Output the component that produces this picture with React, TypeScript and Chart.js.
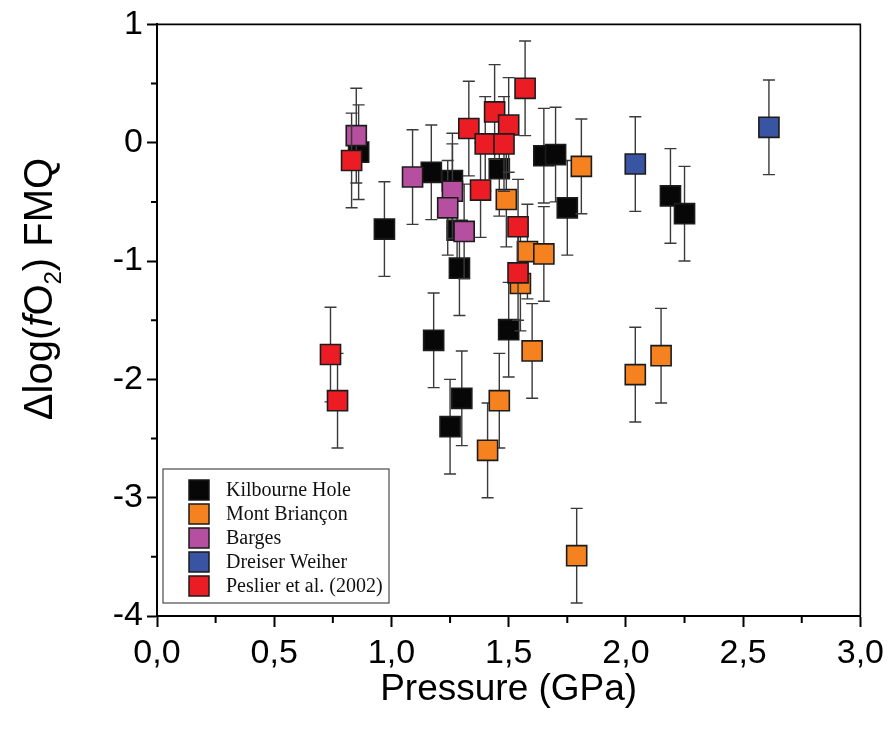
import React, { useEffect, useRef } from 'react';
import { Chart, registerables } from 'chart.js';

Chart.register(...registerables);

const seriesNames = ['Kilbourne Hole', 'Mont Briançon', 'Barges', 'Dreiser Weiher', 'Peslier et al. (2002)'];
const seriesColors = ['#070707', '#f5821f', '#b64f9f', '#3a54a4', '#ec1c24'];

const kilbourneP = [0.86, 0.97, 1.17, 1.26, 1.28, 1.29, 1.18, 1.30, 1.25, 1.46, 1.50, 1.65, 1.70, 1.75, 2.19, 2.25];
const kilbourneFO2 = [-0.08, -0.73, -0.25, -0.32, -0.74, -1.06, -1.67, -2.16, -2.40, -0.22, -1.58, -0.11, -0.10, -0.55, -0.45, -0.60];
const kilbourneErr = [0.4, 0.4, 0.4, 0.4, 0.4, 0.4, 0.4, 0.4, 0.4, 0.4, 0.4, 0.4, 0.4, 0.4, 0.4, 0.4];

const montP = [1.49, 1.58, 1.65, 1.81, 1.55, 1.60, 1.46, 1.41, 1.79, 2.04, 2.15];
const montFO2 = [-0.48, -0.92, -0.94, -0.20, -1.19, -1.76, -2.18, -2.60, -3.49, -1.96, -1.80];
const montErr = [0.4, 0.4, 0.4, 0.4, 0.4, 0.4, 0.4, 0.4, 0.4, 0.4, 0.4];

const bargesP = [0.85, 1.09, 1.26, 1.24, 1.31];
const bargesFO2 = [0.06, -0.29, -0.41, -0.55, -0.75];
const bargesErr = [0.4, 0.4, 0.4, 0.4, 0.4];

const dreiserP = [2.04, 2.61];
const dreiserFO2 = [-0.18, 0.13];
const dreiserErr = [0.4, 0.4];

const peslierP = [0.83, 1.33, 1.44, 1.50, 1.40, 1.48, 1.57, 1.38, 1.54, 1.54, 0.74, 0.77];
const peslierFO2 = [-0.15, 0.12, 0.26, 0.15, -0.01, -0.01, 0.46, -0.40, -0.71, -1.10, -1.79, -2.18];
const peslierErr = [0.4, 0.4, 0.4, 0.4, 0.4, 0.4, 0.4, 0.4, 0.4, 0.4, 0.4, 0.4];

const xTickMajor = [0, 0.5, 1, 1.5, 2, 2.5, 3];
const yTickMajor = [1, 0, -1, -2, -3, -4];

const seriesP = [kilbourneP, montP, bargesP, dreiserP, peslierP];
const seriesFO2 = [kilbourneFO2, montFO2, bargesFO2, dreiserFO2, peslierFO2];
const seriesErr = [kilbourneErr, montErr, bargesErr, dreiserErr, peslierErr];

const SANS = "'Liberation Sans', Arial, sans-serif";
const SERIF = "'Liberation Serif', 'Times New Roman', serif";

const isMajorX = (v: number) => xTickMajor.some((m) => Math.abs(m - v) < 1e-6);
const isMajorY = (v: number) => yTickMajor.some((m) => Math.abs(m - v) < 1e-6);

const errorBarPlugin = {
  id: 'errorBars',
  beforeDatasetDraw(chart: any, args: any) {
    const i = args.index;
    const errs = seriesErr[i];
    const meta = chart.getDatasetMeta(i);
    const ys = chart.scales.y;
    const ctx = chart.ctx;
    ctx.save();
    ctx.strokeStyle = '#3a3a3a';
    ctx.lineWidth = 1.4;
    meta.data.forEach((el: any, j: number) => {
      const v = chart.data.datasets[i].data[j].y;
      const x = el.x;
      const yTop = ys.getPixelForValue(v + errs[j]);
      const yBot = ys.getPixelForValue(v - errs[j]);
      ctx.beginPath();
      ctx.moveTo(x, yTop);
      ctx.lineTo(x, yBot);
      ctx.moveTo(x - 6, yTop);
      ctx.lineTo(x + 6, yTop);
      ctx.moveTo(x - 6, yBot);
      ctx.lineTo(x + 6, yBot);
      ctx.stroke();
    });
    ctx.restore();
  },
};

const framePlugin = {
  id: 'frame',
  afterDraw(chart: any) {
    const ctx = chart.ctx;
    const a = chart.chartArea;
    const xs = chart.scales.x;
    const ys = chart.scales.y;
    ctx.save();
    ctx.strokeStyle = '#000';
    ctx.lineWidth = 1.6;
    ctx.beginPath();
    ctx.moveTo(a.left, a.top);
    ctx.lineTo(a.right, a.top);
    ctx.lineTo(a.right, a.bottom);
    ctx.stroke();
    ctx.lineWidth = 2;
    ctx.beginPath();
    xs.ticks.forEach((t: any) => {
      if (!isMajorX(t.value)) {
        const px = xs.getPixelForValue(t.value);
        ctx.moveTo(px, a.bottom);
        ctx.lineTo(px, a.bottom + 7);
      }
    });
    ys.ticks.forEach((t: any) => {
      if (!isMajorY(t.value)) {
        const py = ys.getPixelForValue(t.value);
        ctx.moveTo(a.left, py);
        ctx.lineTo(a.left - 6, py);
      }
    });
    ctx.stroke();

    // y axis title with italic f and subscript 2
    const parts = [
      { t: '\u0394log(', f: `40px ${SANS}`, dy: 0 },
      { t: 'f', f: `italic 40px ${SANS}`, dy: 0 },
      { t: 'O', f: `40px ${SANS}`, dy: 0 },
      { t: '2', f: `24px ${SANS}`, dy: 9 },
      { t: ') FMQ', f: `40px ${SANS}`, dy: 0 },
    ];
    let total = 0;
    parts.forEach((p) => {
      ctx.font = p.f;
      total += ctx.measureText(p.t).width;
    });
    const cy = 289;
    const cx = 52;
    ctx.translate(cx, cy);
    ctx.rotate(-Math.PI / 2);
    ctx.fillStyle = '#000';
    ctx.textBaseline = 'alphabetic';
    let x = -total / 2;
    parts.forEach((p) => {
      ctx.font = p.f;
      ctx.fillText(p.t, x, p.dy);
      x += ctx.measureText(p.t).width;
    });
    ctx.restore();

    // legend
    ctx.save();
    const bx = a.left + 6;
    const by = a.bottom - 147;
    const bw = 226;
    const bh = 134;
    ctx.fillStyle = '#fff';
    ctx.fillRect(bx, by, bw, bh);
    ctx.strokeStyle = '#4a4a4a';
    ctx.lineWidth = 1.2;
    ctx.strokeRect(bx, by, bw, bh);
    ctx.font = `20px ${SERIF}`;
    ctx.textBaseline = 'middle';
    chart.data.datasets.forEach((ds: any, i: number) => {
      const yc = by + 21 + i * 24;
      ctx.fillStyle = ds.backgroundColor;
      ctx.fillRect(bx + 26, yc - 10, 20, 20);
      ctx.strokeStyle = '#1a1a1a';
      ctx.lineWidth = 1.5;
      ctx.strokeRect(bx + 26, yc - 10, 20, 20);
      ctx.fillStyle = '#111';
      ctx.fillText(ds.label, bx + 63, yc + 1);
    });
    ctx.restore();
  },
};

export default function App() {
  const ref = useRef<HTMLCanvasElement | null>(null);

  useEffect(() => {
    if (!ref.current) return;
    const datasets = seriesNames.map((name, i) => ({
      label: name,
      data: seriesP[i].map((p, j) => ({ x: p, y: seriesFO2[i][j] })),
      backgroundColor: seriesColors[i],
      borderColor: '#1c1c1c',
      borderWidth: 1.6,
      pointStyle: 'rect',
      pointRadius: 14.2,
      pointHoverRadius: 14.2,
      showLine: false,
      order: seriesNames.length - i,
    }));

    const chart = new Chart(ref.current, {
      type: 'scatter',
      data: { datasets },
      plugins: [errorBarPlugin, framePlugin],
      options: {
        animation: false,
        responsive: false,
        events: [],
        layout: { padding: { top: 22, right: 28, left: 0, bottom: 0 } },
        plugins: {
          legend: { display: false },
          tooltip: { enabled: false },
        },
        scales: {
          x: {
            type: 'linear',
            min: 0,
            max: 3,
            afterFit: (s: any) => {
              s.height = 115;
            },
            afterBuildTicks: (s: any) => {
              const t = [];
              for (let k = 0; k <= 12; k++) t.push({ value: k * 0.25 });
              s.ticks = t;
            },
            ticks: {
              autoSkip: false,
              maxRotation: 0,
              padding: 6,
              color: '#000',
              font: { family: SANS, size: 34 },
              callback: (v: any) => (isMajorX(Number(v)) ? Number(v).toFixed(1).replace('.', ',') : ''),
            },
            grid: {
              drawOnChartArea: false,
              drawTicks: true,
              tickLength: 11,
              tickWidth: 2,
              tickColor: (c: any) => (c.tick && isMajorX(c.tick.value) ? '#000' : 'rgba(0,0,0,0)'),
            },
            border: { display: true, color: '#000', width: 2 },
            title: {
              display: true,
              text: 'Pressure (GPa)',
              color: '#000',
              font: { family: SANS, size: 37 },
              padding: { top: 0, bottom: 19 },
            },
          },
          y: {
            type: 'linear',
            min: -4,
            max: 1,
            afterFit: (s: any) => {
              s.width = 157;
            },
            afterBuildTicks: (s: any) => {
              const t = [];
              for (let k = 0; k <= 10; k++) t.push({ value: -4 + k * 0.5 });
              s.ticks = t;
            },
            ticks: {
              autoSkip: false,
              padding: 4,
              color: '#000',
              font: { family: SANS, size: 34 },
              callback: (v: any) => (isMajorY(Number(v)) ? String(Math.round(Number(v))) : ''),
            },
            grid: {
              drawOnChartArea: false,
              drawTicks: true,
              tickLength: 10,
              tickWidth: 2,
              tickColor: (c: any) => (c.tick && isMajorY(c.tick.value) ? '#000' : 'rgba(0,0,0,0)'),
            },
            border: { display: true, color: '#000', width: 2 },
          },
        },
      } as any,
    });
    return () => chart.destroy();
  }, []);

  return (
    <div style={{ position: 'fixed', left: 0, top: 0, width: 890, height: 731, background: '#fff' }}>
      <canvas ref={ref} width={890} height={731} style={{ display: 'block' }} />
    </div>
  );
}
